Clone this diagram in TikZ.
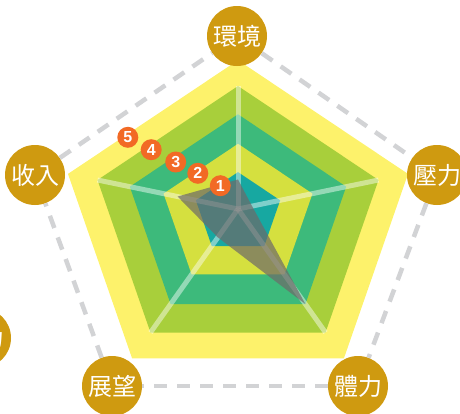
\documentclass[tikz,border=0pt]{standalone}
\usepackage{fontspec}
\newfontfamily\cjkfont{Noto Sans CJK TC}
\newfontfamily\numfont{Liberation Sans}
\usetikzlibrary{calc}
\definecolor{cyel}{HTML}{FDF26B}
\definecolor{clg}{HTML}{A8CF3B}
\definecolor{ctg}{HTML}{3DBA7B}
\definecolor{cyg}{HTML}{D5E03F}
\definecolor{cteal}{HTML}{17A8A1}
\definecolor{cgold}{HTML}{CF9A10}
\definecolor{corange}{HTML}{F26A25}
\definecolor{cdash}{HTML}{D2D3D5}
\definecolor{cdata}{RGB}{110,105,105}
\newcommand\radarlevel[2]{\fill[#2] ($(H)!#1!(A)$) -- ($(H)!#1!(B)$) -- ($(H)!#1!(C)$) -- ($(H)!#1!(D)$) -- ($(H)!#1!(E)$) -- cycle;}
\begin{document}
\begin{tikzpicture}[x=1pt,y=-1pt,
  axlabel/.style={circle, fill=cgold, minimum size=60pt, inner sep=0pt, text=white, font=\cjkfont\fontsize{24}{24}\selectfont},
  badge/.style={circle, fill=corange, minimum size=21pt, inner sep=0pt, text=white, font=\numfont\bfseries\fontsize{16}{16}\selectfont},
  dashline/.style={draw=cdash, line width=4.5pt, dash pattern=on 13pt off 10pt},
  spoke/.style={draw=white, draw opacity=0.45, line width=5pt},
  datafill/.style={fill=cdata, fill opacity=0.7}]
\useasboundingbox (0,0) rectangle (460,413);
\clip (0,0) rectangle (460,413);
% hub and spoke ends
\coordinate (H) at (238,209);
\coordinate (A) at (238,86);
\coordinate (B) at (378.5,180);
\coordinate (C) at (325.5,332.5);
\coordinate (D) at (150.5,332.5);
\coordinate (E) at (97.5,180);
% level bands
\radarlevel{1.21}{cyel}
\radarlevel{1.0}{clg}
\radarlevel{0.77}{ctg}
\radarlevel{0.53}{cyg}
\radarlevel{0.3}{cteal}
% spokes
\foreach \v in {A,B,C,D,E} \draw[spoke] (H) -- (\v);
% data polygon
\fill[datafill] ($(H)!0.24!(A)$) -- ($(H)!0.1!(B)$) -- ($(H)!0.77!(C)$) -- ($(H)!0.23!(D)$) -- ($(H)!0.43!(E)$) -- cycle;
% axis labels
\node[axlabel] (env) at (237,36) {環境};
\node[axlabel] (pre) at (437,175) {壓力};
\node[axlabel] (phy) at (358,386) {體力};
\node[axlabel] (pro) at (112,386) {展望};
\node[axlabel] (inc) at (35,175) {收入};
\node[axlabel] (ext) at (-19,338) {能力};
% dashed frame
\draw[dashline] (env) -- (pre);
\draw[dashline] (pre) -- (phy);
\draw[dashline] (phy) -- (pro);
\draw[dashline] (pro) -- (inc);
\draw[dashline] (inc) -- (env);
% level badges
\node[badge] (b1) at (220.3,185.7) {1};
\node[badge] (b2) at (197.8,173.3) {2};
\node[badge] (b3) at (175.7,162) {3};
\node[badge] (b4) at (151.2,149.7) {4};
\node[badge] (b5) at (127.8,137.3) {5};
\end{tikzpicture}
\end{document}
